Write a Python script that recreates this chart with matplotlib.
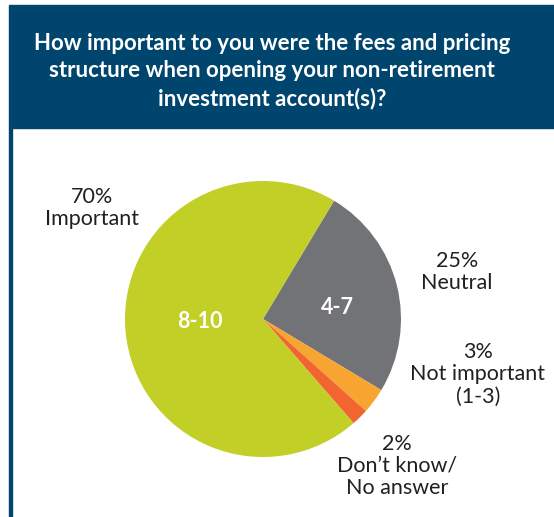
import matplotlib.pyplot as plt
from matplotlib.patches import Rectangle

# --- data ---
shares = [25, 3, 2, 70]
colors = ["#727377", "#f8a431", "#f26530", "#c2cf27"]
inner_labels = ["4-7", "", "", "8-10"]
outer_labels = ["25%\nNeutral", "3%\nNot important\n(1-3)",
                "2%\nDon\u2019t know/\nNo answer", "70%\nImportant"]
title = ("How important to you were the fees and pricing\n"
         "structure when opening your non-retirement\n"
         "investment account(s)?")

W, H = 554, 517
BLUE = "#00456e"

plt.rcParams['font.family'] = ['Lato', 'DejaVu Sans']

fig = plt.figure(figsize=(W / 100, H / 100), dpi=100)
ax = fig.add_axes([0, 0, 1, 1])

# header band and left border
ax.add_patch(Rectangle((9, H - 128), W - 9, 123, color=BLUE, zorder=1))
ax.add_patch(Rectangle((9, 0), 3, H - 128, color=BLUE, zorder=1))
ax.text(272, H - 71, title, ha="center", va="center", color="white",
        fontsize=16, fontweight="bold", linespacing=1.35, zorder=2)

# pie
cx, cy, r = 263, H - 319, 138
wedges, _ = ax.pie(shares, colors=colors, startangle=59, counterclock=False,
                   center=(cx, cy), radius=r, frame=True,
                   wedgeprops=dict(linewidth=0))

# labels inside slices
inner_pos = [(337, 308), None, None, (200, 321)]
for lab, pos in zip(inner_labels, inner_pos):
    if lab:
        ax.text(pos[0], H - pos[1], lab, ha="center", va="center",
                color="white", fontsize=15.5, fontweight="bold")

# labels outside
outer_pos = [(457, 272), (478, 374), (397, 466), (92, 208)]
for lab, pos in zip(outer_labels, outer_pos):
    ax.text(pos[0], H - pos[1], lab, ha="center", va="center",
            color="#231f20", fontsize=15.5, linespacing=1.15)

ax.set_xlim(0, W)
ax.set_ylim(0, H)
ax.set_aspect("equal")
ax.axis("off")

fig.savefig("out.png", dpi=100)
